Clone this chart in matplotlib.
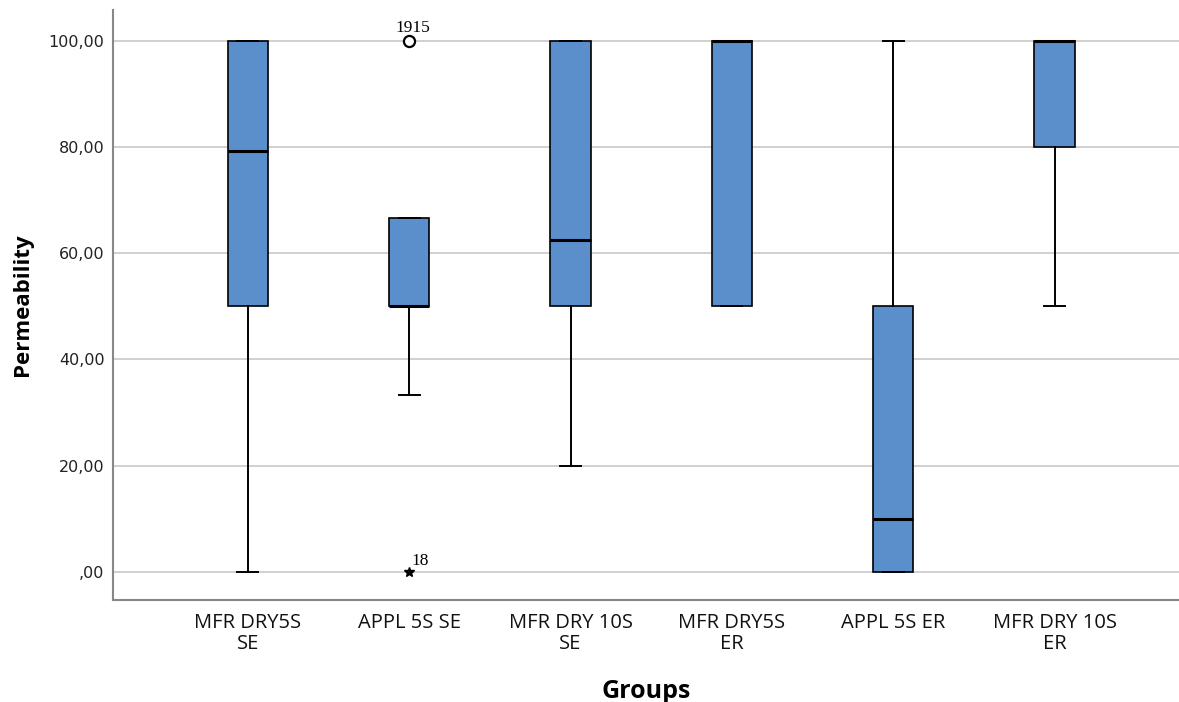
import matplotlib
matplotlib.use("Agg")
import matplotlib.pyplot as plt

categories = ["MFR DRY5S\nSE", "APPL 5S SE", "MFR DRY 10S\nSE", "MFR DRY5S\nER", "APPL 5S ER", "MFR DRY 10S\nER"]
whis_lo = [0, 33.3, 20, 50, 0, 50]
q1 = [50, 50, 50, 50, 0, 80]
medians = [79.2, 50, 62.5, 100, 10, 100]
q3 = [100, 66.7, 100, 100, 50, 100]
whis_hi = [100, 66.7, 100, 100, 100, 100]
outlier_vals = [100, 0]
outlier_group = [2, 2]
outlier_labels = ["1915", "18"]
outlier_kind = ["o", "*"]
yticks = [0, 20, 40, 60, 80, 100]
yticklabels = [",00", "20,00", "40,00", "60,00", "80,00", "100,00"]

fig = plt.figure(figsize=(11.79, 7.02), dpi=100)
ax = fig.add_axes([0.0958, 0.145, 0.904, 0.841])

stats = []
for i in range(len(categories)):
    stats.append(dict(whislo=whis_lo[i], q1=q1[i], med=medians[i], q3=q3[i],
                      whishi=whis_hi[i], fliers=[]))
positions = list(range(1, len(categories) + 1))
ax.bxp(stats, positions=positions, widths=0.25, patch_artist=True, showfliers=False,
       boxprops=dict(facecolor="#5b8fcb", edgecolor="black", linewidth=1.2),
       medianprops=dict(color="black", linewidth=2.2),
       whiskerprops=dict(color="black", linewidth=1.4),
       capprops=dict(color="black", linewidth=1.4),
       capwidths=0.13, zorder=3)

for v, g, lab, kind in zip(outlier_vals, outlier_group, outlier_labels, outlier_kind):
    if kind == "o":
        ax.plot([g], [v], marker="o", markersize=8, markerfacecolor="white",
                markeredgecolor="black", markeredgewidth=1.6, linestyle="none", zorder=4)
        ax.annotate(lab, (g, v), xytext=(-10, 6), textcoords="offset points",
                    fontsize=12.5, family="Liberation Serif", zorder=5)
    else:
        ax.plot([g], [v], marker="*", markersize=7, color="black", linestyle="none", zorder=4)
        ax.annotate(lab, (g, v), xytext=(2, 5), textcoords="offset points",
                    fontsize=12.5, family="Liberation Serif", zorder=5)

ax.set_xlim(0.164, 6.77)
ax.set_ylim(-5.3, 105.8)
ax.set_yticks(yticks)
ax.set_yticklabels(yticklabels, fontsize=11.5, family="DejaVu Sans", color="#222222")
ax.set_xticks(positions)
ax.set_xticklabels(categories, fontsize=14.5, family="Open Sans", linespacing=1.1, color="#111111")
ax.tick_params(axis="x", length=0, pad=9)
ax.tick_params(axis="y", length=0, pad=6)
ax.yaxis.grid(True, color="#c8c8c8", linewidth=1.2, zorder=0)
ax.set_axisbelow(True)
for s in ["top", "right"]:
    ax.spines[s].set_visible(False)
for s in ["left", "bottom"]:
    ax.spines[s].set_color("#888888")
    ax.spines[s].set_linewidth(1.5)

ax.set_ylabel("Permeability", fontsize=16, fontweight="bold", family="Open Sans")
ax.yaxis.set_label_coords(-0.075, 0.5)
ax.set_xlabel("Groups", fontsize=18, fontweight="bold", family="Open Sans", labelpad=18)

fig.savefig("out.png", dpi=100)
